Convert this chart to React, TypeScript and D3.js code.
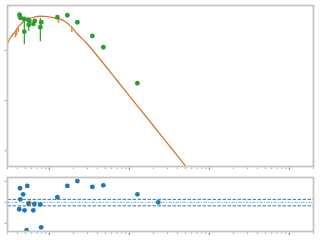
import React from 'react';
import * as d3 from 'd3';

// Photometry (wavelength in micron, flux)
const photWave = [0.424, 0.43, 0.437, 0.483, 0.487, 0.542, 0.553, 0.562, 0.631, 0.657, 0.772, 0.794, 1.259, 1.679, 2.239, 3.45, 4.73, 12.6];
const photFlux = [5.25e-14, 4.79e-14, 4.51e-14, 4.31e-14, 2.4e-14, 4.17e-14, 3.27e-14, 3.93e-14, 3.42e-14, 3.93e-14, 2.94e-14, 3.7e-14, 4.66e-14, 5.11e-14, 3.7e-14, 1.97e-14, 1.17e-14, 2.23e-15];
const photErrHi = [0, 0, 0, 0, 4.11e-14, 0, 4.11e-14, 0, 0, 0, 4.51e-14, 0, 0, 0, 0, 0, 0, 0];
const photErrLo = [0, 0, 0, 0, 1.34e-14, 0, 2.48e-14, 0, 0, 0, 1.54e-14, 0, 0, 0, 0, 0, 0, 0];

// Model SED
const modelWave = [0.3, 0.323, 0.373, 0.43, 0.497, 0.574, 0.663, 0.765, 0.884, 1.02, 1.18, 1.36, 1.57, 1.87, 2.2, 2.93, 4.3, 6.31, 8.41, 18.2, 51.1, 76.6];
const modelFlux = [1.39e-14, 1.77e-14, 2.4e-14, 3.27e-14, 3.98e-14, 4.45e-14, 4.76e-14, 4.88e-14, 4.83e-14, 4.68e-14, 4.47e-14, 4.25e-14, 3.84e-14, 3.02e-14, 2.23e-14, 1.41e-14, 6.73e-15, 3.13e-15, 1.76e-15, 3.79e-16, 4.79e-17, 2.16e-17];

// Model synthetic photometry ticks
const synWave = [0.378, 0.39, 0.41, 1.3, 1.91];
const synTop = [2.3e-14, 2.6e-14, 2.95e-14, 4.4e-14, 2.95e-14];
const synBot = [1.85e-14, 2.05e-14, 2.4e-14, 3.6e-14, 2.35e-14];

// Residuals
const resWave = [0.42, 0.43, 0.434, 0.47, 0.49, 0.52, 0.53, 0.55, 0.63, 0.65, 0.77, 0.79, 1.26, 1.68, 2.24, 3.45, 4.73, 12.6, 23];
const resVal = [-0.33, 0.67, 0.14, 0.38, -0.38, -1.33, 0.78, -0.07, -0.38, -0.08, -0.1, -1.19, 0.24, 0.78, 1.01, 0.73, 0.81, 0.38, 0.0];
const resOrangeWave = [0.56];
const resOrangeVal = [-0.02];
const resBands = [0.14, 0.0, -0.17];

const xTickDecades = [0.1, 1, 10, 100, 1000];
const yTickValues = [1e-14, 1e-15, 1e-16];
const resTicks = [1, 0, -1];

const W = 320, H = 240;
const L = 7.5, R = 313.5;
const T1 = 5.5, B1 = 166.5;
const T2 = 177.5, B2 = 231.5;

export default function App() {
  const x = d3.scaleLog().domain([0.3, 2000]).range([L, R]);
  const y = d3.scaleLog().domain([8.0e-14, 4.83e-17]).range([T1, B1]);
  const yr = d3.scaleLinear().domain([0, 1]).range([202.3, 181.3]);

  const line = d3
    .line<number>()
    .x((_, i) => x(modelWave[i]))
    .y((_, i) => y(modelFlux[i]))
    .curve(d3.curveMonotoneX);
  const modelPath = line(modelWave) || '';

  const xTicks: { v: number; major: boolean }[] = [];
  for (const dec of xTickDecades) {
    for (let m = 1; m <= 9; m++) {
      const v = dec * m;
      if (v >= 0.3 && v <= 2000) xTicks.push({ v, major: m === 1 });
    }
  }

  const frame = '#c4c4c4';
  const tickC = '#a8a8a8';

  const renderXTicks = (yb: number, key: string) =>
    xTicks.map((t, i) => (
      <line key={key + i} x1={x(t.v)} x2={x(t.v)} y1={yb + 1} y2={yb + (t.major ? 3.5 : 2.5)} stroke={t.major ? '#999' : tickC} strokeWidth={t.major ? 1.3 : 1} />
    ));

  return (
    <svg width={W} height={H} style={{ position: 'absolute', left: 0, top: 0, background: '#fff' }}>
      <defs>
        <clipPath id="c1"><rect x={L} y={T1} width={R - L} height={B1 - T1} /></clipPath>
        <clipPath id="c2"><rect x={L} y={T2} width={R - L} height={B2 - T2} /></clipPath>
      </defs>
      <rect x={0} y={0} width={W} height={H} fill="#fff" />
      <g clipPath="url(#c1)">
        <path d={modelPath} fill="none" stroke="#d2782f" strokeWidth={1.3} />
        {synWave.map((w, i) => (
          <line key={'s' + i} x1={x(w)} x2={x(w)} y1={y(synTop[i])} y2={y(synBot[i])} stroke="#e8892f" strokeWidth={1.5} />
        ))}
        {photWave.map((w, i) =>
          photErrHi[i] > 0 ? (
            <line key={'e' + i} x1={x(w)} x2={x(w)} y1={y(photErrHi[i])} y2={y(photErrLo[i])} stroke="#2ca02c" strokeWidth={1.2} />
          ) : null
        )}
        {photWave.map((w, i) => (
          <circle key={'p' + i} cx={x(w)} cy={y(photFlux[i])} r={2.4} fill="#2ca02c" />
        ))}
      </g>
      <g clipPath="url(#c2)">
        <line x1={L} x2={R} y1={yr(resBands[0])} y2={yr(resBands[0])} stroke="#2b7bba" strokeWidth={1} strokeDasharray="3.5,1.5" />
        <line x1={L} x2={R} y1={yr(resBands[1])} y2={yr(resBands[1])} stroke="#6aaee0" strokeWidth={1} strokeDasharray="3,1.5,1,1.5" />
        <line x1={L} x2={R} y1={yr(resBands[2])} y2={yr(resBands[2])} stroke="#2b7bba" strokeWidth={1} strokeDasharray="3.5,1.5" />
        {resOrangeWave.map((w, i) => (
          <circle key={'ro' + i} cx={x(w)} cy={yr(resOrangeVal[i])} r={2.5} fill="#f0a050" />
        ))}
        {resWave.map((w, i) => (
          <circle key={'r' + i} cx={x(w)} cy={yr(resVal[i])} r={2.4} fill="#1f77b4" />
        ))}
      </g>
      {renderXTicks(B1, 'xt1')}
      {renderXTicks(B2, 'xt2')}
      {yTickValues.map((v, i) => (
        <line key={'yt' + i} x1={L - 3} x2={L - 1} y1={y(v)} y2={y(v)} stroke="#999" strokeWidth={1} />
      ))}
      {resTicks.map((v, i) => (
        <line key={'rt' + i} x1={L - 3} x2={L - 1} y1={yr(v)} y2={yr(v)} stroke="#999" strokeWidth={1} />
      ))}
      <rect x={L} y={T1} width={R - L} height={B1 - T1} fill="none" stroke={frame} strokeWidth={1.8} />
      <rect x={L} y={T2} width={R - L} height={B2 - T2} fill="none" stroke={frame} strokeWidth={1.8} />
    </svg>
  );
}
